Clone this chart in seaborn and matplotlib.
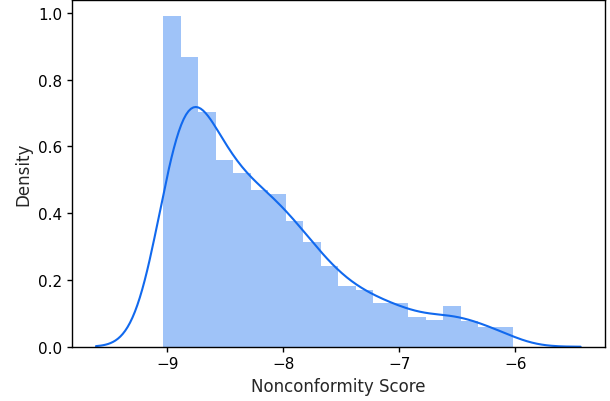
import numpy as np
import pandas as pd
import matplotlib
matplotlib.use('Agg')
import matplotlib.pyplot as plt
import seaborn as sns


# histogram bins (20 equal bins)
bin_start = -9.033
bin_end = -6.02
densities = [0.989, 0.866, 0.702, 0.559, 0.520, 0.468, 0.457, 0.376,
             0.313, 0.243, 0.183, 0.171, 0.131, 0.131, 0.090, 0.080,
             0.121, 0.078, 0.058, 0.058]
x_label = 'Nonconformity Score'
y_label = 'Density'

sns.set_theme(context='notebook', style='ticks')
plt.rcParams['font.family'] = ['DejaVu Sans']
plt.rcParams['axes.edgecolor'] = 'black'
plt.rcParams['xtick.color'] = 'black'
plt.rcParams['ytick.color'] = 'black'
plt.rcParams['axes.linewidth'] = 1.0
plt.rcParams['xtick.major.width'] = 1.0
plt.rcParams['ytick.major.width'] = 1.0
plt.rcParams['xtick.major.size'] = 3.5
plt.rcParams['ytick.major.size'] = 3.5

line_color = '#1169ee'

edges = np.linspace(bin_start, bin_end, len(densities) + 1)
df = pd.DataFrame({
    'score': (edges[:-1] + edges[1:]) / 2,
    'density': densities,
})

fig, ax = plt.subplots(figsize=(6.1, 4.02), dpi=100)
fig.subplots_adjust(left=0.1175, right=0.992, top=0.9975, bottom=0.135)

sns.histplot(
    data=df,
    x='score',
    weights='density',
    bins=len(densities),
    binrange=(bin_start, bin_end),
    stat='count',
    color=line_color,
    alpha=0.4,
    linewidth=0,
    ax=ax
)
sns.kdeplot(
    data=df,
    x='score',
    weights='density',
    bw_adjust=0.455,
    cut=2.95,
    color=line_color,
    linewidth=1.5,
    ax=ax
)

ax.set_xlim(-9.824, -5.227)
ax.set_ylim(0, 1.038)
ax.set_xticks([-9, -8, -7, -6])
ax.set_yticks([0.0, 0.2, 0.4, 0.6, 0.8, 1.0])
ax.set(xlabel=x_label, ylabel=y_label)
ax.grid(False)

fig.savefig('out.png', dpi=100)
